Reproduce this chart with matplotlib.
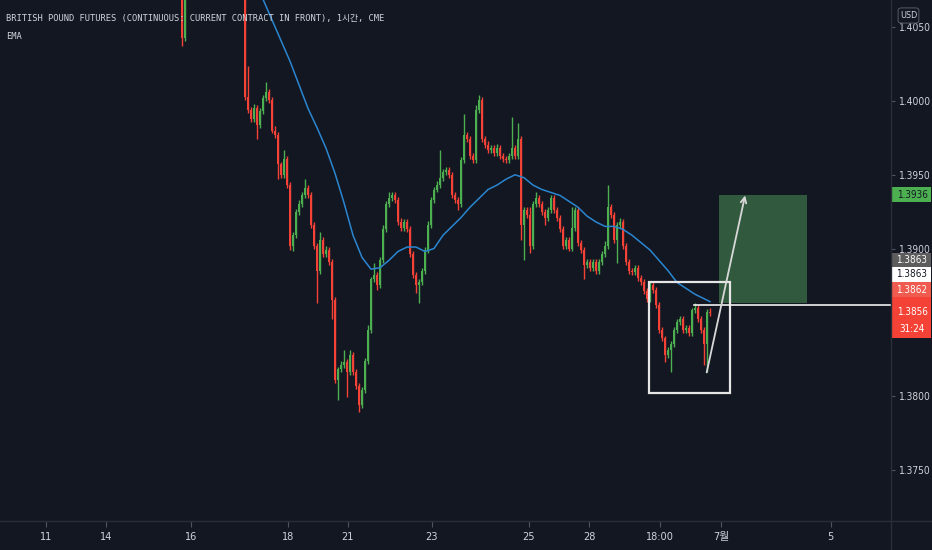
import numpy as np
import matplotlib
matplotlib.use("Agg")
import matplotlib.pyplot as plt
from matplotlib.patches import Rectangle, FancyBboxPatch
from matplotlib.lines import Line2D

plt.rcParams['font.family'] = ['DejaVu Sans', 'Noto Sans CJK KR']
plt.rcParams['font.stretch'] = 'condensed'

BG = '#131722'
UP = '#4caf50'
DOWN = '#f44336'
TXT = '#d1d4dc'
LINE = '#2a2e39'

# hourly bars (1 bar = 1 hour). first two bars, then a stretch that sits above the chart
early_close = [1.4043, 1.4095]
early_up = [0, 0]
early_dn = [6, 2]
hidden = 19
gap_open = 1.4095

main_close = [
    1.4003, 1.3994, 1.3988, 1.3995, 1.3984, 1.3993, 1.4002, 1.4006, 1.4001, 1.3980,
    1.3977, 1.3957, 1.3950, 1.3961, 1.3943, 1.3902, 1.3909, 1.3925, 1.3930, 1.3936,
    1.3941, 1.3936, 1.3916, 1.3902, 1.3885, 1.3906, 1.3896, 1.3899, 1.3891, 1.3865,
    1.3811, 1.3818, 1.3821, 1.3823, 1.3816, 1.3828, 1.3816, 1.3807, 1.3794, 1.3804,
    1.3824, 1.3845, 1.3879, 1.3882, 1.3875, 1.3892, 1.3913, 1.3930, 1.3934, 1.3936,
    1.3933, 1.3918, 1.3914, 1.3918, 1.3913, 1.3896, 1.3882, 1.3875, 1.3877, 1.3885,
    1.3899, 1.3916, 1.3933, 1.3940, 1.3943, 1.3948, 1.3952, 1.3953, 1.3950, 1.3936,
    1.3933, 1.3930, 1.3960, 1.3977, 1.3974, 1.3963, 1.3960, 1.3994, 1.4001, 1.3974,
    1.3970, 1.3967, 1.3968, 1.3965, 1.3968, 1.3963, 1.3961, 1.3960, 1.3963, 1.3968,
    1.3963, 1.3974, 1.3916, 1.3926, 1.3923, 1.3902, 1.3930, 1.3934, 1.3930, 1.3925,
    1.3921, 1.3926, 1.3934, 1.3926, 1.3921, 1.3913, 1.3902, 1.3906, 1.3900, 1.3914,
    1.3926, 1.3904, 1.3899, 1.3889, 1.3891, 1.3887, 1.3891, 1.3885, 1.3891, 1.3896,
    1.3902, 1.3928, 1.3923, 1.3906, 1.3916, 1.3918, 1.3902, 1.3891, 1.3885, 1.3884,
    1.3887, 1.3880, 1.3877, 1.3871, 1.3866, 1.3875, 1.3872, 1.3862, 1.3845, 1.3839,
    1.3828, 1.3831, 1.3835, 1.3845, 1.3850, 1.3852, 1.3845, 1.3846, 1.3843, 1.3858,
    1.3860, 1.3852, 1.3845, 1.3835, 1.3857, 1.3856,
]
# wick lengths in pips beyond the body
main_up = [
    2, 21, 2, 3, 2, 2, 2, 7, 2, 2,
    3, 2, 2, 6, 2, 2, 2, 2, 3, 2,
    6, 2, 2, 2, 2, 5, 2, 3, 2, 2,
    2, 2, 3, 8, 2, 3, 2, 2, 2, 2,
    2, 3, 2, 8, 2, 2, 3, 2, 4, 2,
    2, 2, 3, 2, 2, 2, 2, 2, 2, 2,
    2, 3, 2, 2, 3, 19, 2, 2, 2, 2,
    2, 2, 2, 14, 2, 2, 2, 3, 3, 2,
    2, 3, 2, 2, 3, 2, 2, 2, 2, 21,
    2, 11, 2, 2, 2, 5, 2, 4, 2, 2,
    2, 2, 2, 2, 2, 2, 2, 2, 2, 14,
    2, 2, 2, 2, 2, 2, 2, 2, 2, 2,
    3, 15, 2, 2, 2, 3, 2, 2, 2, 2,
    2, 2, 2, 2, 2, 2, 2, 2, 2, 2,
    2, 2, 2, 2, 2, 2, 2, 2, 2, 2,
    3, 2, 2, 2, 2, 3,
]
main_dn = [
    2, 2, 2, 2, 10, 2, 2, 2, 2, 2,
    2, 10, 2, 2, 2, 3, 4, 2, 2, 2,
    2, 2, 2, 2, 22, 2, 2, 2, 2, 13,
    2, 14, 2, 2, 17, 2, 2, 2, 5, 2,
    2, 2, 2, 2, 3, 2, 2, 2, 2, 2,
    2, 2, 2, 2, 2, 2, 2, 5, 12, 2,
    2, 2, 2, 2, 2, 2, 2, 2, 2, 2,
    2, 4, 2, 2, 2, 2, 2, 2, 2, 2,
    2, 2, 2, 2, 2, 2, 2, 2, 2, 2,
    2, 2, 10, 24, 2, 5, 2, 2, 2, 2,
    5, 2, 2, 2, 2, 2, 2, 2, 2, 2,
    2, 2, 2, 10, 2, 2, 2, 2, 2, 2,
    2, 2, 2, 2, 16, 2, 2, 2, 2, 2,
    2, 2, 2, 2, 2, 2, 2, 2, 2, 2,
    5, 2, 15, 2, 2, 2, 2, 2, 2, 2,
    2, 2, 2, 14, 19, 2,
]

# EMA (bar index, value)
ema_bar = list(range(24, 175, 3)) + [176]
ema_val = [
    1.4083, 1.4069, 1.4055, 1.4041, 1.4027, 1.4011, 1.3995, 1.3982, 1.3968, 1.3951,
    1.3931, 1.3909, 1.3894, 1.3886, 1.3887, 1.3892, 1.3898, 1.3901, 1.3901, 1.3898,
    1.3900, 1.3909, 1.3915, 1.3921, 1.3928, 1.3934, 1.3940, 1.3943, 1.3947, 1.3950,
    1.3948, 1.3943, 1.3940, 1.3938, 1.3936, 1.3932, 1.3928, 1.3922, 1.3918, 1.3915,
    1.3915, 1.3913, 1.3909, 1.3904, 1.3899, 1.3892, 1.3885, 1.3877, 1.3873, 1.3869,
    1.3866, 1.3864,
]

tick_bar = [-45.4, -25.2, 2.9, 35.2, 55.2, 83.2, 115.5, 135.7, 159.2, 179.8, 216.2]
tick_lbl = ['11', '14', '16', '18', '21', '23', '25', '28', '18:00', '7월', '5']
# 1.3850 is covered by the price tags in the original
price_ticks = [1.3750, 1.3800, 1.3900, 1.3950, 1.4000, 1.4050]

# drawings on the chart
box_x = (155.8, 182.7)
box_y = (1.3802, 1.38775)
pos_x = (179.0, 208.2)
pos_y = (1.3863, 1.3936)
entry = 1.3862
entry_from = 170.8
arrow_from = (174.9, 1.3816)
arrow_to = (187.7, 1.3936)

closes = np.array(early_close + [np.nan] * hidden + main_close)
upw = np.array(early_up + [0] * hidden + main_up) * 0.0001
dnw = np.array(early_dn + [0] * hidden + main_dn) * 0.0001
prev = np.r_[np.nan, closes[:-1]]
opens = np.where(np.isnan(prev), gap_open, prev)
highs = np.maximum(opens, closes) + upw
lows = np.minimum(opens, closes) - dnw
k = np.arange(len(closes))
ok = ~np.isnan(closes)
rise = closes >= opens

W, H = 932, 550
fig = plt.figure(figsize=(W / 100, H / 100), dpi=100, facecolor=BG)
ax = fig.add_axes([0, 29 / H, 891 / W, 521 / H], facecolor=BG)

for m, col in ((ok & rise, UP), (ok & ~rise, DOWN)):
    ax.vlines(k[m], lows[m], highs[m], color=col, lw=1.0)
    body_lo = np.minimum(opens[m], closes[m])
    body_h = np.maximum(np.abs(closes[m] - opens[m]), 0.00004)
    ax.bar(k[m], body_h, bottom=body_lo, width=0.8, color=col, linewidth=0)

ax.plot(ema_bar, ema_val, color='#2a86d1', lw=1.1)

ax.add_patch(Rectangle((pos_x[0], pos_y[0]), pos_x[1] - pos_x[0], pos_y[1] - pos_y[0],
                       facecolor='#31593d', edgecolor='none', zorder=1))
ax.add_patch(Rectangle((box_x[0], box_y[0]), box_x[1] - box_x[0], box_y[1] - box_y[0],
                       facecolor='none', edgecolor='#e6e6e6', lw=1.6, zorder=4))
ax.plot([entry_from, 300], [entry, entry], color='#f0f0f0', lw=1.2, zorder=4)
ax.annotate('', xy=arrow_to, xytext=arrow_from,
            arrowprops=dict(arrowstyle='->', color='#d8d8d8', lw=1.3,
                            mutation_scale=10, shrinkA=0, shrinkB=0), zorder=5)

ax.set_xlim(-182 / 3, (891 - 182) / 3)
ax.set_ylim(1.40685 - 521 * 0.0000678, 1.40685)
for s in ax.spines.values():
    s.set_visible(False)
ax.yaxis.tick_right()
ax.set_yticks(price_ticks)
ax.set_yticklabels([f'{p:.4f}' for p in price_ticks])
ax.set_xticks(tick_bar)
ax.set_xticklabels(tick_lbl)
ax.tick_params(axis='y', length=3, color='#50535e', labelcolor=TXT, labelsize=7.3, pad=3)
ax.tick_params(axis='x', length=4, color='#50535e', labelcolor=TXT, labelsize=7.8, pad=4)

# axis separators
fig.add_artist(Line2D([891 / W, 891 / W], [0, 1], color=LINE, lw=1))
fig.add_artist(Line2D([0, 1], [1 - 521 / H, 1 - 521 / H], color=LINE, lw=1))

# price labels on the scale
def tag(y0, y1, face, lines, fg):
    fig.add_artist(Rectangle((891 / W, 1 - y1 / H), 40 / W, (y1 - y0) / H,
                             transform=fig.transFigure, facecolor=face, edgecolor='none'))
    for txt, yc in lines:
        fig.text(912 / W, 1 - yc / H, txt, color=fg, fontsize=7.1, ha='center', va='center')

tag(187.3, 202.3, '#4caf50', [('1.3936', 194.8)], '#131722')
tag(252.7, 266.7, '#5d5d5d', [('1.3863', 259.7)], '#ffffff')
tag(267.3, 281.7, '#ffffff', [('1.3863', 274.5)], '#131722')
tag(282.3, 297.3, '#ef5b4f', [('1.3862', 289.8)], '#ffffff')
tag(297.3, 338.0, '#f44336', [('1.3856', 312.0), ('31:24', 329.0)], '#ffffff')

fig.add_artist(FancyBboxPatch((900 / W, 1 - 22 / H), 17 / W, 13 / H,
                              boxstyle='round,pad=0.002,rounding_size=0.004',
                              transform=fig.transFigure, facecolor=BG, edgecolor='#50535e', lw=0.8))
fig.text(908.5 / W, 1 - 15.5 / H, 'USD', color=TXT, fontsize=6.5, ha='center', va='center')

mono = ['DejaVu Sans Mono', 'Noto Sans CJK KR']
fig.text(6 / W, 1 - 19 / H, 'BRITISH POUND FUTURES (CONTINUOUS: CURRENT CONTRACT IN FRONT), 1시간, CME',
         color=TXT, fontsize=6.3, family=mono, fontstretch='normal', ha='left', va='center')
fig.text(6 / W, 1 - 36.5 / H, 'EMA', color=TXT, fontsize=6.3, family=mono, fontstretch='normal',
         ha='left', va='center')

fig.savefig('out.png', dpi=100, facecolor=BG)
